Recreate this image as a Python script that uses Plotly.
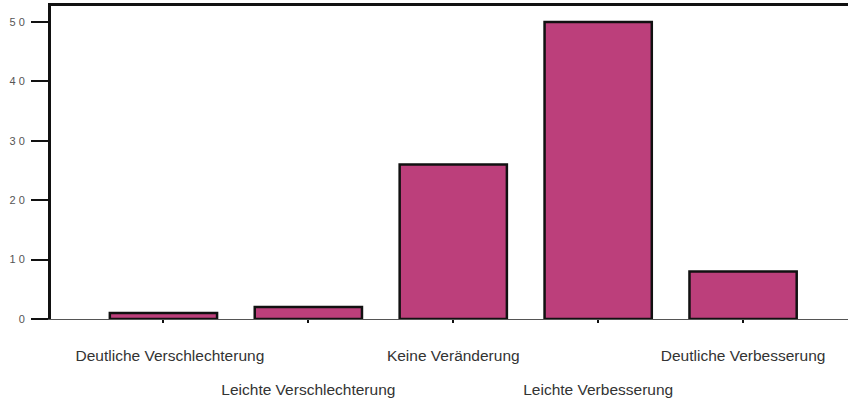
import plotly.graph_objects as go

categories = ["Deutliche Verschlechterung", "Leichte Verschlechterung", "Keine Veränderung",
              "Leichte Verbesserung", "Deutliche Verbesserung"]
values = [1, 2, 26, 50, 8]
y_tick_vals = [0, 10, 20, 30, 40, 50]
y_tick_text = ["0", "1 0", "2 0", "3 0", "4 0", "5 0"]

idx = list(range(len(categories)))
xrange = [-0.776, 4.724]

fig = go.Figure()
fig.add_trace(go.Bar(
    x=idx, y=values, width=0.74,
    marker=dict(color="#BC3F7B", line=dict(color="#111111", width=2.5)),
    hoverinfo="x+y",
))

row1_text = [c if i % 2 == 0 else "" for i, c in enumerate(categories)]
# the first label sits slightly right of its bar in the reference
row1_text[0] = "\u00a0\u00a0\u00a0" + row1_text[0]
row2_vals = [i for i in idx if i % 2 == 1]
row2_text = [categories[i] for i in row2_vals]

label_font = dict(family="Liberation Sans, Arial, sans-serif", size=15.5, color="#333333")

fig.update_layout(
    width=848, height=403,
    margin=dict(l=51, r=0, t=6, b=84),
    paper_bgcolor="white", plot_bgcolor="white",
    showlegend=False,
    font=dict(family="Liberation Sans, Arial, sans-serif", color="#333333"),
    xaxis=dict(
        range=xrange, tickmode="array", tickvals=idx, ticktext=row1_text,
        showline=True, linecolor="#555555", linewidth=1,
        ticks="outside", ticklen=3, tickwidth=2, tickcolor="#111111",
        showgrid=False, zeroline=False, automargin=False,
        tickfont=label_font,
        ticklabelstandoff=19,
    ),
    xaxis2=dict(
        range=xrange, overlaying="x", side="bottom", anchor="y",
        tickmode="array", tickvals=row2_vals, ticktext=row2_text,
        showline=False, ticks="", showgrid=False, zeroline=False, automargin=False,
        tickfont=label_font,
        ticklabelstandoff=59,
    ),
    xaxis3=dict(
        range=xrange, overlaying="x", side="top", anchor="y",
        showline=True, linecolor="#111111", linewidth=3,
        showticklabels=False, ticks="", showgrid=False, zeroline=False, automargin=False,
    ),
    yaxis=dict(
        range=[0, 52.7], tickmode="array", tickvals=y_tick_vals, ticktext=y_tick_text,
        showline=True, linecolor="#111111", linewidth=3,
        ticks="outside", ticklen=17, tickwidth=2, tickcolor="#111111",
        showgrid=False, zeroline=False, automargin=False,
        tickfont=dict(family="Liberation Sans, Arial, sans-serif", size=11, color="#555555"),
        ticklabelstandoff=4,
    ),
)

# invisible traces so the overlay axes are drawn
fig.add_trace(go.Scatter(x=[None], y=[None], xaxis="x2", showlegend=False, hoverinfo="skip"))
fig.add_trace(go.Scatter(x=[None], y=[None], xaxis="x3", showlegend=False, hoverinfo="skip"))

fig.write_html("out.html", config={"displayModeBar": False},
               post_script="document.body.style.margin='0px';")
